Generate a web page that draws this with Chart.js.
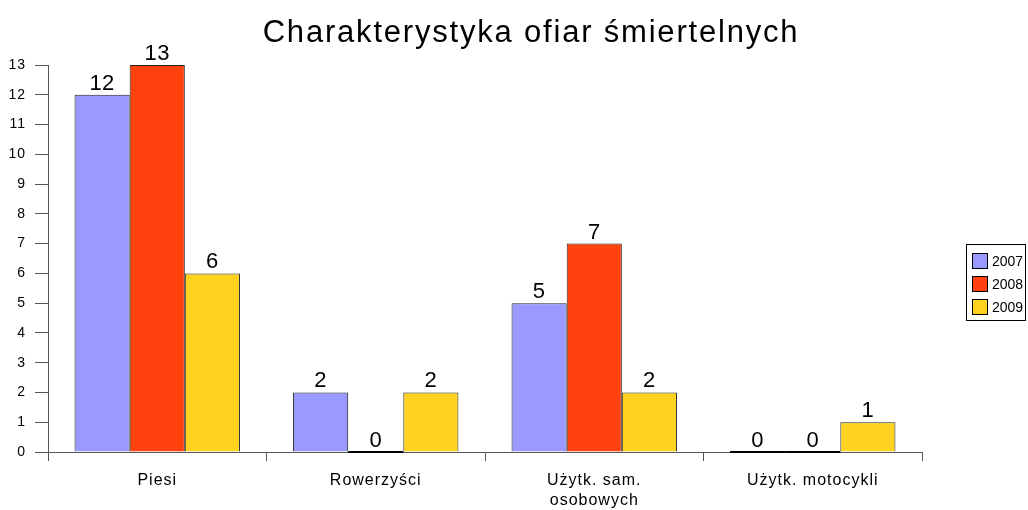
<!DOCTYPE html>
<html>
<head>
<meta charset="utf-8">
<script src="https://cdn.jsdelivr.net/npm/chart.js@4/dist/chart.umd.min.js"></script>
<style>
  html, body { margin: 0; padding: 0; background: #fff; }
  #wrap { width: 1028px; height: 510px; position: relative; }
</style>
</head>
<body>
<div id="wrap"><canvas id="graphCanvas"></canvas></div>
<script>
var chartTitle = 'Charakterystyka ofiar śmiertelnych';
var categories = ['Piesi', 'Rowerzyści', ['Użytk. sam.', 'osobowych'], 'Użytk. motocykli'];
var years = ['2007', '2008', '2009'];
var values2007 = [12, 2, 5, 0];
var values2008 = [13, 0, 7, 0];
var values2009 = [6, 2, 2, 1];
var colors = ['#9999ff', '#ff420e', '#ffd320'];
var yTicks = [0, 1, 2, 3, 4, 5, 6, 7, 8, 9, 10, 11, 12, 13];

var fontName = '"Liberation Sans", Arial, sans-serif';

// the original text is a bit wider spaced, set it before the axes draw
var spacing = {
  id: 'spacing',
  beforeDraw: function(chart) {
    chart.ctx.letterSpacing = '1px';
  }
};

// values above the bars + black line for empty bars
var valueLabels = {
  id: 'valueLabels',
  afterDatasetsDraw: function(chart) {
    var ctx = chart.ctx;
    ctx.save();
    ctx.letterSpacing = '0.5px';
    chart.data.datasets.forEach(function(ds, i) {
      chart.getDatasetMeta(i).data.forEach(function(bar, j) {
        var v = ds.data[j];
        if (v === 0) {
          ctx.strokeStyle = '#000';
          ctx.lineWidth = 2;
          ctx.beginPath();
          ctx.moveTo(bar.x - bar.width / 2, bar.y);
          ctx.lineTo(bar.x + bar.width / 2, bar.y);
          ctx.stroke();
        }
        ctx.fillStyle = '#000';
        ctx.font = '22px ' + fontName;
        ctx.textAlign = 'center';
        ctx.textBaseline = 'alphabetic';
        ctx.fillText(String(v), bar.x, bar.y - 5);
      });
    });
    ctx.restore();
  }
};

// title and legend box like the original
var decorations = {
  id: 'decorations',
  afterDraw: function(chart) {
    var ctx = chart.ctx;
    ctx.save();
    ctx.fillStyle = '#000';
    ctx.letterSpacing = '1.8px';
    ctx.font = '31px ' + fontName;
    ctx.textAlign = 'center';
    ctx.textBaseline = 'alphabetic';
    ctx.fillText(chartTitle, 531, 42);

    ctx.letterSpacing = '0px';
    ctx.strokeStyle = '#000';
    ctx.lineWidth = 1;
    ctx.strokeRect(966.5, 244.5, 59, 76);
    ctx.font = '14px ' + fontName;
    ctx.textAlign = 'left';
    ctx.textBaseline = 'middle';
    chart.data.datasets.forEach(function(ds, i) {
      var top = 253 + i * 23;
      ctx.fillStyle = ds.backgroundColor;
      ctx.fillRect(972, top, 16, 16);
      ctx.strokeStyle = '#000';
      ctx.strokeRect(972.5, top + 0.5, 15, 15);
      ctx.fillStyle = '#000';
      ctx.fillText(ds.label, 992, top + 9);
    });
    ctx.restore();
  }
};

var datasets = [values2007, values2008, values2009].map(function(vals, i) {
  return {
    label: years[i],
    data: vals,
    backgroundColor: colors[i],
    borderColor: '#222',
    borderWidth: 1,
    borderSkipped: 'start',
    categoryPercentage: 0.757,
    barPercentage: 1.0
  };
});

var graphTarget = document.getElementById('graphCanvas');
graphTarget.width = 1028;
graphTarget.height = 510;

var barGraph = new Chart(graphTarget, {
  type: 'bar',
  data: { labels: categories, datasets: datasets },
  options: {
    responsive: false,
    animation: false,
    devicePixelRatio: 1,
    layout: { padding: { top: 65, right: 106, left: 0, bottom: 0 } },
    plugins: {
      legend: { display: false },
      title: { display: false },
      tooltip: { enabled: false }
    },
    scales: {
      x: {
        grid: { display: true, drawOnChartArea: false, offset: true, tickLength: 9, color: '#555', lineWidth: 1 },
        border: { color: '#555', width: 1 },
        ticks: { color: '#000', font: { family: fontName, size: 16, lineHeight: 1.25 }, padding: 10, maxRotation: 0, autoSkip: false },
        afterFit: function(scale) { scale.height = 58; }
      },
      y: {
        min: 0,
        max: 13,
        afterBuildTicks: function(scale) {
          scale.ticks = yTicks.map(function(v) { return { value: v }; });
        },
        grid: { display: true, drawOnChartArea: false, tickLength: 13, color: '#555', lineWidth: 1 },
        border: { color: '#555', width: 1 },
        ticks: { color: '#000', font: { family: fontName, size: 14 }, padding: 9 },
        afterFit: function(scale) { scale.width = 48; }
      }
    }
  },
  plugins: [spacing, valueLabels, decorations]
});
</script>
</body>
</html>
